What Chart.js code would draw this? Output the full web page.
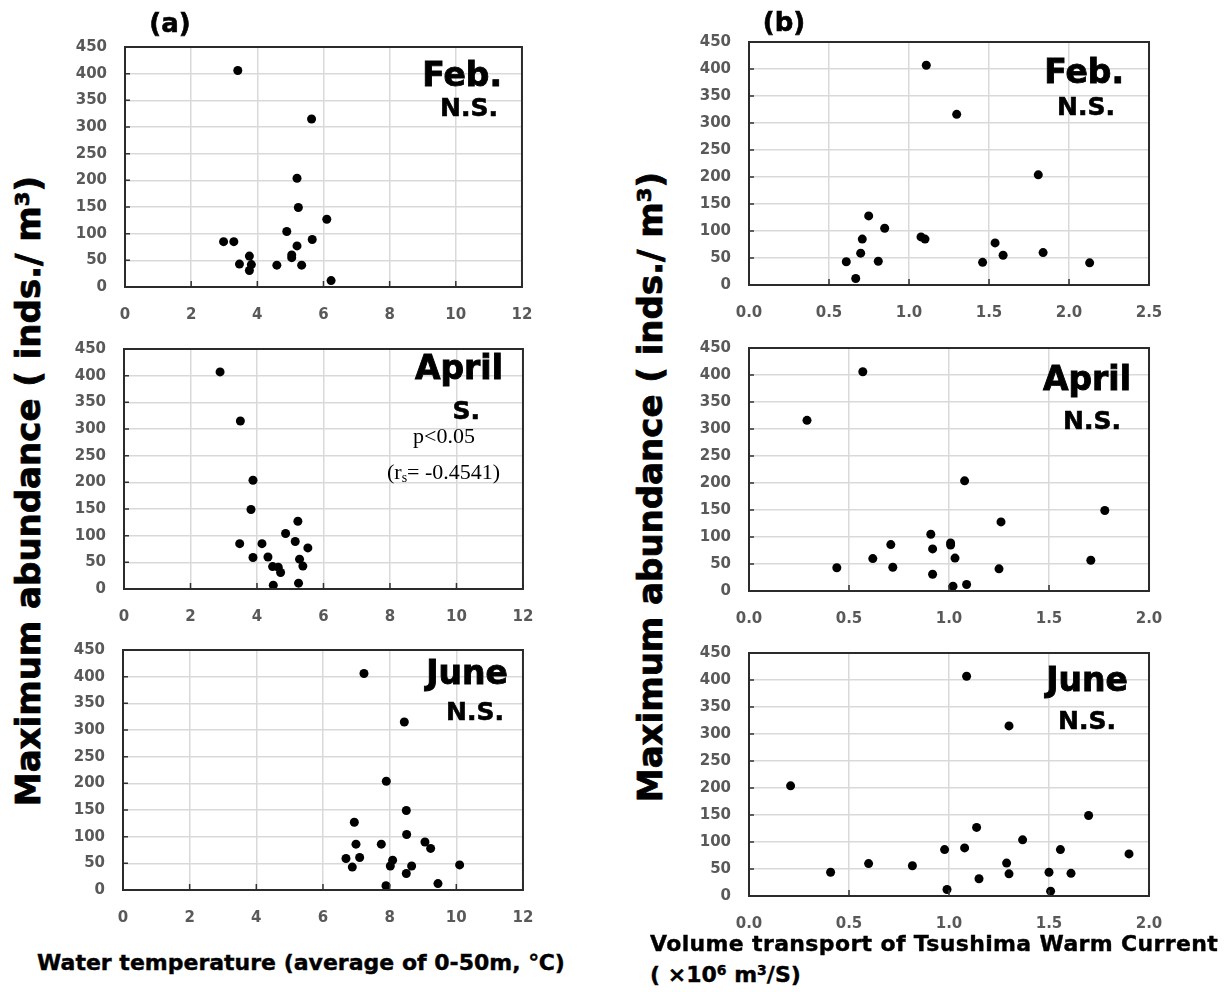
<!DOCTYPE html>
<html>
<head>
<meta charset="utf-8">
<script src="https://cdn.jsdelivr.net/npm/chart.js@4/dist/chart.umd.min.js"></script>
<style>
  html, body { margin:0; padding:0; background:#fff; }
  body { width:1225px; height:992px; position:relative; overflow:hidden; font-family:"DejaVu Sans", sans-serif; }
  .panel { position:absolute; }
  .panel canvas { display:block; }
  .t { position:absolute; white-space:nowrap; font-family:"DejaVu Sans", sans-serif; font-weight:bold; color:#000; }
  .mon { font-size:33px; line-height:33px; -webkit-text-stroke:0.9px #000; }
  .sig { font-size:25px; line-height:25px; -webkit-text-stroke:0.6px #000; }
  .serif { position:absolute; white-space:nowrap; font-family:"Liberation Serif", "Times New Roman", serif; font-size:22px; line-height:22px; color:#000; }
  .serif sub { font-size:14px; vertical-align:-3px; line-height:0; }
  .ytitle { position:absolute; white-space:nowrap; font-family:"DejaVu Sans", sans-serif; font-weight:bold; font-size:34px; line-height:34px; -webkit-text-stroke:0.8px #000; transform:translate(-50%,-50%) rotate(-90deg); }
  .xtitle { position:absolute; white-space:nowrap; font-family:"DejaVu Sans", sans-serif; font-weight:bold; font-size:22px; line-height:22px; -webkit-text-stroke:0.4px #000; }
  .xtitle sup { font-size:14px; vertical-align:7px; line-height:0; }
</style>
</head>
<body>
<script>
// ---------- data ----------
const yTicks = [0, 50, 100, 150, 200, 250, 300, 350, 400, 450];
const tempTicks = [0, 2, 4, 6, 8, 10, 12];
const vtTicksFeb = [0.0, 0.5, 1.0, 1.5, 2.0, 2.5];
const vtTicks = [0.0, 0.5, 1.0, 1.5, 2.0];

// (a) water temperature vs abundance
const tempFebX = [3.41, 5.64, 5.20, 5.24, 6.10, 4.89, 2.98, 3.29, 5.66, 5.20, 3.76, 5.04, 5.04, 3.46, 3.82, 3.76, 4.59, 5.34, 6.23];
const tempFebY = [406, 315, 204, 149, 127, 104, 85, 85, 89, 77, 58, 60, 55, 43, 42, 31, 41, 41, 12];

const tempAprX = [2.89, 3.50, 3.88, 3.82, 5.23, 4.86, 3.48, 4.15, 5.15, 5.53, 3.88, 4.33, 5.28, 4.47, 4.64, 5.38, 4.71, 4.49, 5.25];
const tempAprY = [407, 315, 204, 149, 127, 104, 85, 85, 89, 77, 59, 60, 56, 42, 41, 43, 31, 7, 11];

const tempJunX = [7.23, 8.44, 7.90, 8.50, 6.94, 8.51, 6.99, 7.75, 9.06, 9.23, 6.69, 7.10, 8.09, 6.88, 8.02, 8.66, 8.50, 10.10, 7.89, 9.45];
const tempJunY = [406, 315, 204, 149, 127, 104, 86, 86, 90, 78, 59, 61, 56, 43, 45, 45, 31, 47, 8, 12];

// (b) volume transport vs abundance
const vtFebX = [1.108, 1.298, 1.808, 0.748, 0.848, 0.708, 1.075, 1.100, 1.538, 0.698, 1.588, 1.838, 0.608, 0.808, 1.460, 2.129, 0.667];
const vtFebY = [407, 316, 204, 128, 105, 85, 89, 85, 78, 59, 55, 60, 43, 44, 42, 41, 12];

const vtAprX = [0.569, 0.290, 1.078, 1.779, 1.260, 0.909, 0.709, 1.008, 1.008, 0.918, 0.619, 1.030, 1.709, 0.439, 0.719, 1.250, 0.918, 1.020, 1.088];
const vtAprY = [406, 316, 204, 149, 128, 105, 86, 89, 85, 78, 60, 61, 57, 43, 44, 41, 31, 9, 12];

const vtJunX = [1.088, 1.300, 0.208, 1.698, 1.138, 1.368, 0.978, 1.078, 1.557, 1.900, 0.598, 0.817, 1.288, 0.408, 1.300, 1.500, 1.610, 1.150, 0.990, 1.508];
const vtJunY = [407, 315, 204, 149, 127, 104, 86, 89, 86, 78, 60, 56, 61, 44, 41, 44, 42, 32, 12, 9];

// ---------- layout (plot areas, page pixels) ----------
const panels = [
  { xs: tempFebX, ys: tempFebY, xt: tempTicks, area: [125, 47, 522, 287], dec: 0 },
  { xs: tempAprX, ys: tempAprY, xt: tempTicks, area: [124, 349, 523, 589], dec: 0 },
  { xs: tempJunX, ys: tempJunY, xt: tempTicks, area: [123, 650, 523, 890], dec: 0 },
  { xs: vtFebX, ys: vtFebY, xt: vtTicksFeb, area: [749, 42, 1149, 285], dec: 1 },
  { xs: vtAprX, ys: vtAprY, xt: vtTicks, area: [749, 348, 1149, 591], dec: 1 },
  { xs: vtJunX, ys: vtJunY, xt: vtTicks, area: [749, 653, 1149, 896], dec: 1 }
];

const YW = 60, XH = 40, PT = 8, PR = 22;

const boxPlugin = {
  id: 'box',
  afterDraw(chart) {
    const { ctx, chartArea: a, scales: { x, y } } = chart;
    ctx.save();
    ctx.strokeStyle = '#333';
    ctx.lineWidth = 1.5;
    ctx.beginPath();
    y.ticks.forEach(t => {
      const py = y.getPixelForValue(t.value);
      ctx.moveTo(a.left, py); ctx.lineTo(a.left + 5, py);
    });
    x.ticks.forEach(t => {
      const px = x.getPixelForValue(t.value);
      ctx.moveTo(px, a.bottom); ctx.lineTo(px, a.bottom - 6);
    });
    ctx.stroke();
    ctx.lineWidth = 2;
    ctx.strokeStyle = '#2b2b2b';
    ctx.strokeRect(a.left, a.top, a.right - a.left, a.bottom - a.top);
    ctx.restore();
  }
};

panels.forEach(p => {
  const [l, t, r, b] = p.area;
  const div = document.createElement('div');
  div.className = 'panel';
  let dl = l - YW, dt = t - PT;
  let w = (r - l) + YW + PR, h = (b - t) + PT + XH;
  const place = () => {
    div.style.left = dl + 'px'; div.style.top = dt + 'px';
    div.style.width = w + 'px'; div.style.height = h + 'px';
  };
  place();
  const cv = document.createElement('canvas');
  div.appendChild(cv);
  document.body.appendChild(div);

  const pts = p.xs.map((xv, i) => ({ x: xv, y: p.ys[i] }));
  const chart = new Chart(cv, {
    type: 'scatter',
    data: { datasets: [{ data: pts, backgroundColor: '#000', borderWidth: 0, pointRadius: 4.5, pointHoverRadius: 4.5 }] },
    options: {
      responsive: true, maintainAspectRatio: false, animation: false,
      devicePixelRatio: 1,
      layout: { padding: { top: PT, right: PR, left: 0, bottom: 0 }, autoPadding: false },
      plugins: { legend: { display: false }, tooltip: { enabled: false } },
      scales: {
        x: {
          type: 'linear', min: p.xt[0], max: p.xt[p.xt.length - 1],
          afterBuildTicks: s => { s.ticks = p.xt.map(v => ({ value: v })); },
          afterFit: s => { s.height = XH; },
          grid: { color: '#d9d9d9', lineWidth: 1.5, drawTicks: false },
          border: { display: false },
          ticks: { padding: 19, color: '#595959', font: { family: 'DejaVu Sans', weight: 'bold', size: 15 },
                   maxRotation: 0, autoSkip: false,
                   callback: v => Number(v).toFixed(p.dec) }
        },
        y: {
          type: 'linear', min: 0, max: 450,
          afterBuildTicks: s => { s.ticks = yTicks.map(v => ({ value: v })); },
          afterFit: s => { s.width = YW; },
          grid: { color: '#d9d9d9', lineWidth: 1.5, drawTicks: false },
          border: { display: false },
          ticks: { padding: 18, color: '#595959', font: { family: 'DejaVu Sans', weight: 'bold', size: 15 },
                   autoSkip: false, callback: v => String(v) }
        }
      }
    },
    plugins: [boxPlugin]
  });

  // align the plot area to the target rectangle
  for (let k = 0; k < 4; k++) {
    const a = chart.chartArea;
    const ex = (l - (dl + a.left)), ey = (t - (dt + a.top));
    const ew = (r - l) - (a.right - a.left), eh = (b - t) - (a.bottom - a.top);
    if (Math.abs(ex) < 0.5 && Math.abs(ey) < 0.5 && Math.abs(ew) < 0.5 && Math.abs(eh) < 0.5) break;
    dl += ex; dt += ey; w += ew; h += eh;
    place();
    chart.resize();
  }
});
</script>

<!-- panel letters -->
<div class="t" style="left:170px; top:10px; font-size:26px; line-height:26px; -webkit-text-stroke:0.6px #000; transform:translateX(-50%);">(a)</div>
<div class="t" style="left:784px; top:9px; font-size:26px; line-height:26px; -webkit-text-stroke:0.6px #000; transform:translateX(-50%);">(b)</div>

<!-- (a) annotations -->
<div class="t mon" style="right:723px; top:58px;">Feb.</div>
<div class="t sig" style="right:727px; top:95px;">N.S.</div>
<div class="t mon" style="right:722px; top:351px;">April</div>
<div class="t sig" style="right:745px; top:398px;">S.</div>
<div class="serif" style="left:413px; top:425px;">p&lt;0.05</div>
<div class="serif" style="left:387px; top:461px;">(r<sub>s</sub>= -0.4541)</div>
<div class="t mon" style="right:717px; top:656px;">June</div>
<div class="t sig" style="right:721px; top:699px;">N.S.</div>

<!-- (b) annotations -->
<div class="t mon" style="right:101px; top:55px;">Feb.</div>
<div class="t sig" style="right:110px; top:94px;">N.S.</div>
<div class="t mon" style="right:94px; top:362px;">April</div>
<div class="t sig" style="right:104px; top:408px;">N.S.</div>
<div class="t mon" style="right:97px; top:663px;">June</div>
<div class="t sig" style="right:109px; top:708px;">N.S.</div>

<!-- axis titles -->
<div class="ytitle" style="left:28px; top:491px;">Maximum abundance ( inds./ m³)</div>
<div class="ytitle" style="left:650px; top:487px;">Maximum abundance ( inds./ m³)</div>
<div class="xtitle" style="left:301px; top:952px; transform:translateX(-50%);">Water temperature (average of 0-50m, ℃)</div>
<div class="xtitle" style="left:650px; top:933px; letter-spacing:0.35px;">Volume transport of Tsushima Warm Current</div>
<div class="xtitle" style="left:650px; top:964px;">( ×10<sup>6</sup> m<sup>3</sup>/S)</div>
</body>
</html>
